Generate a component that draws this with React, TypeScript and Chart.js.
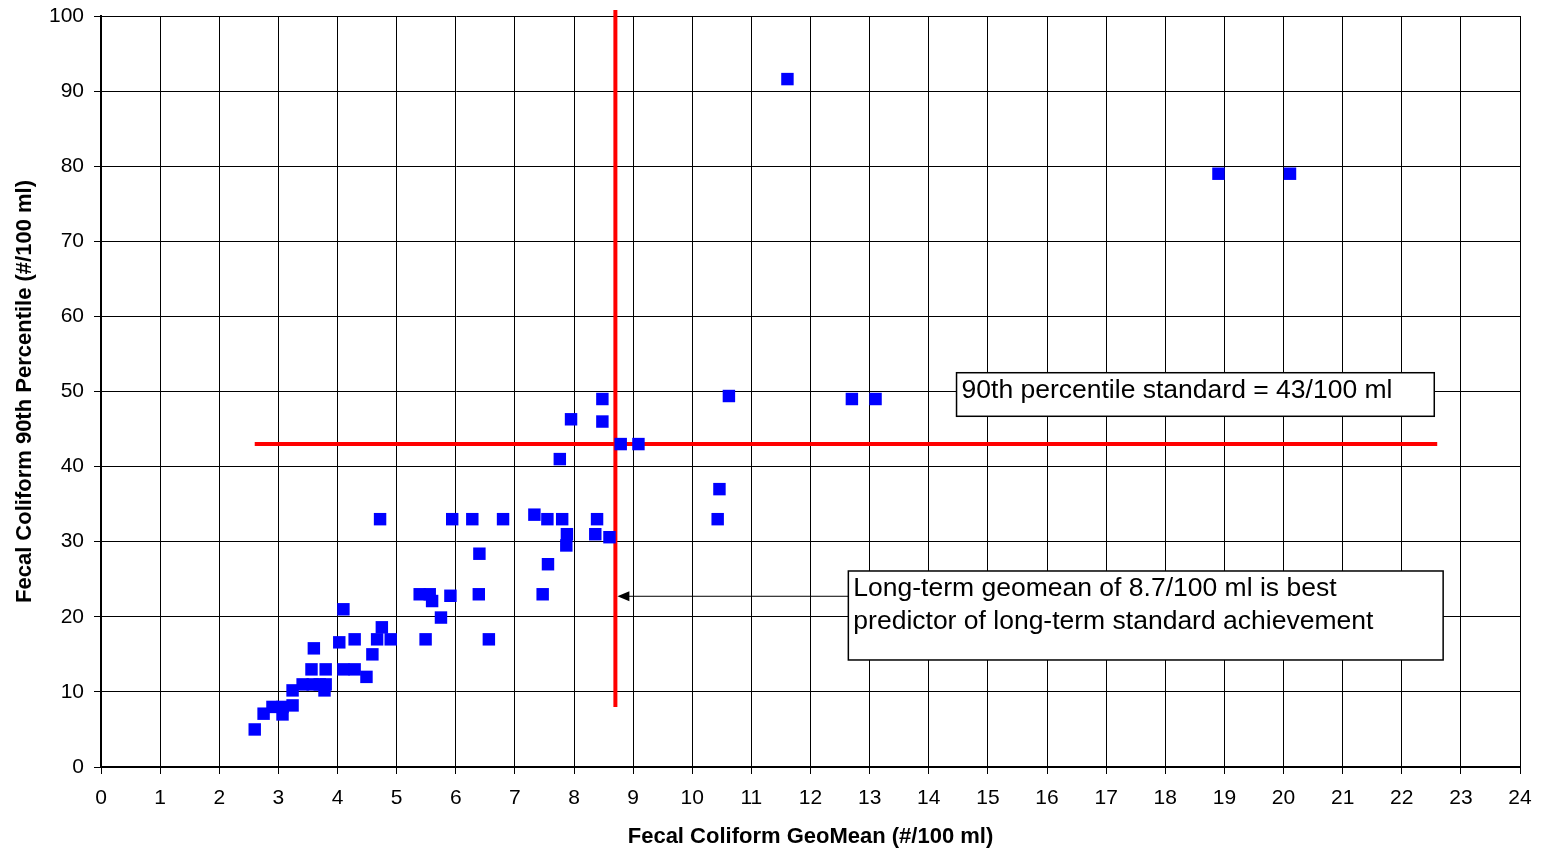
import React, { useEffect, useRef } from "react";
import { Chart, registerables } from "chart.js";

Chart.register(...registerables);

// Fecal coliform geometric mean per site (#/100 ml)
const geoMean: number[] = [
  2.6, 2.75, 2.9, 3.07, 3.07, 3.24, 3.24, 3.41, 3.58, 3.7, 3.8, 3.78, 3.56, 3.8, 3.6,
  4.1, 4.29, 4.49, 4.03, 4.29, 4.1, 4.59, 4.67, 4.75, 4.9, 4.72,
  5.39, 5.56, 5.6, 5.49, 5.75, 5.91, 5.94, 6.28, 6.39, 6.4, 6.56, 6.8,
  7.33, 7.47, 7.55, 7.56, 7.76, 7.8, 7.88, 7.87, 7.95, 8.36, 8.39, 8.48, 8.48, 8.6,
  8.79, 9.09, 10.43, 10.46, 10.62, 11.61, 12.7, 13.1, 18.9, 20.11,
];

// Fecal coliform 90th percentile per site (#/100 ml)
const percentile90: number[] = [
  5.0, 7.1, 8.0, 8.0, 7.0, 8.2, 10.2, 11.0, 11.0, 11.0, 11.0, 10.2, 13.0, 13.0, 15.8,
  13.0, 13.0, 12.0, 16.6, 17.0, 21.0, 15.0, 17.0, 18.6, 17.0, 33.0,
  23.0, 23.0, 22.1, 17.0, 19.9, 22.8, 33.0, 33.0, 23.0, 28.4, 17.0, 33.0,
  33.6, 23.0, 33.0, 27.0, 41.0, 33.0, 31.0, 29.5, 46.3, 31.0, 33.0, 49.0, 46.0, 30.6,
  43.0, 43.0, 33.0, 37.0, 49.4, 91.6, 49.0, 49.0, 79.0, 79.0,
];

// 90th percentile standard line (y = 43) and geomean line (x = 8.7)
const standardLineX: number[] = [2.6, 22.6];
const standardLineY: number[] = [43, 43];
const geomeanLineX: number[] = [8.7, 8.7];
const geomeanLineY: number[] = [8, 100.8];

const xTicks: number[] = Array.from({ length: 25 }, (_, i) => i);
const yTicks: number[] = [0, 10, 20, 30, 40, 50, 60, 70, 80, 90, 100];

const xTitle = "Fecal Coliform GeoMean (#/100 ml)";
const yTitle = "Fecal Coliform 90th Percentile (#/100 ml)";

const standardNote = ["90th percentile standard = 43/100 ml"];
const geomeanNote = [
  "Long-term geomean of 8.7/100 ml is best",
  "predictor of long-term standard achievement",
];

// Text boxes placed in data units: [left, top, right, bottom]
const standardBox = [14.47, 52.5, 22.55, 46.7];
const geomeanBox = [12.64, 26.1, 22.7, 14.25];
const arrowY = 22.8;

const FONT = "Arial, 'Liberation Sans', Helvetica, sans-serif";

const notesPlugin = {
  id: "notes",
  afterDatasetsDraw(chart: any) {
    const { ctx, scales } = chart;
    const xs = scales.x;
    const ys = scales.y;
    const drawBox = (box: number[], lines: string[]) => {
      const l = xs.getPixelForValue(box[0]);
      const t = ys.getPixelForValue(box[1]);
      const r = xs.getPixelForValue(box[2]);
      const b = ys.getPixelForValue(box[3]);
      ctx.save();
      ctx.fillStyle = "#ffffff";
      ctx.fillRect(l, t, r - l, b - t);
      ctx.strokeStyle = "#000000";
      ctx.lineWidth = 1.5;
      ctx.strokeRect(l, t, r - l, b - t);
      ctx.fillStyle = "#000000";
      ctx.font = `26.5px ${FONT}`;
      ctx.textBaseline = "middle";
      ctx.textAlign = "left";
      lines.forEach((line, i) => {
        ctx.fillText(line, l + 5, t + 18 + i * 33);
      });
      ctx.restore();
    };
    drawBox(standardBox, standardNote);
    drawBox(geomeanBox, geomeanNote);

    // Arrow from the note to the geomean line
    const ax0 = xs.getPixelForValue(geomeanBox[0]);
    const ax1 = xs.getPixelForValue(geomeanLineX[0]) + 2;
    const ay = ys.getPixelForValue(arrowY);
    ctx.save();
    ctx.strokeStyle = "#000000";
    ctx.fillStyle = "#000000";
    ctx.lineWidth = 1;
    ctx.beginPath();
    ctx.moveTo(ax0, ay + 0.5);
    ctx.lineTo(ax1 + 10, ay + 0.5);
    ctx.stroke();
    ctx.beginPath();
    ctx.moveTo(ax1, ay + 0.5);
    ctx.lineTo(ax1 + 12, ay - 4.5);
    ctx.lineTo(ax1 + 12, ay + 5.5);
    ctx.closePath();
    ctx.fill();
    ctx.restore();
  },
};

export default function App() {
  const canvasRef = useRef<HTMLCanvasElement | null>(null);

  useEffect(() => {
    document.body.style.margin = "0";
    const canvas = canvasRef.current;
    if (!canvas) return;

    const points = geoMean.map((x, i) => ({ x, y: percentile90[i] }));
    const hLine = standardLineX.map((x, i) => ({ x, y: standardLineY[i] }));
    const vLine = geomeanLineX.map((x, i) => ({ x, y: geomeanLineY[i] }));

    const chart = new Chart(canvas, {
      type: "scatter",
      data: {
        datasets: [
          {
            label: "Sites",
            data: points,
            pointStyle: "rect",
            pointRadius: 8.8,
            pointHoverRadius: 8.8,
            backgroundColor: "#0000ff",
            borderColor: "#0000ff",
            borderWidth: 0,
            order: 0,
          },
          {
            label: "Standard",
            data: hLine,
            showLine: true,
            borderColor: "#ff0000",
            borderWidth: 4,
            pointRadius: 0,
            order: 1,
          },
          {
            label: "Geomean",
            data: vLine,
            showLine: true,
            borderColor: "#ff0000",
            borderWidth: 4,
            pointRadius: 0,
            clip: false,
            order: 1,
          } as any,
        ],
      },
      options: {
        animation: false,
        responsive: true,
        maintainAspectRatio: false,
        layout: {
          autoPadding: false,
          padding: { left: 0, right: 23, top: 16, bottom: 0 },
        } as any,
        plugins: {
          legend: { display: false },
          tooltip: { enabled: false },
        },
        scales: {
          x: {
            type: "linear",
            min: 0,
            max: 24,
            afterBuildTicks: (scale: any) => {
              scale.ticks = xTicks.map((v) => ({ value: v }));
            },
            afterFit: (scale: any) => {
              scale.height = 85;
              scale.paddingLeft = 0;
              scale.paddingRight = 0;
            },
            grid: {
              color: "#000000",
              lineWidth: 1,
              tickLength: 7,
              tickColor: "#000000",
            },
            border: { color: "#000000", width: 2 },
            ticks: {
              color: "#000000",
              font: { family: FONT, size: 21 },
              padding: 12,
              maxRotation: 0,
              autoSkip: false,
            },
            title: {
              display: true,
              text: xTitle,
              color: "#000000",
              font: { family: FONT, size: 22, weight: "bold" },
              padding: { top: 0, bottom: 2 },
            },
          },
          y: {
            type: "linear",
            min: 0,
            max: 100,
            afterBuildTicks: (scale: any) => {
              scale.ticks = yTicks.map((v) => ({ value: v }));
            },
            afterFit: (scale: any) => {
              scale.width = 101;
              scale.paddingTop = 0;
              scale.paddingBottom = 0;
            },
            grid: {
              color: "#000000",
              lineWidth: 1,
              tickLength: 7,
              tickColor: "#000000",
            },
            border: { color: "#000000", width: 2 },
            ticks: {
              color: "#000000",
              font: { family: FONT, size: 21 },
              padding: 10,
              autoSkip: false,
            },
            title: {
              display: true,
              text: yTitle,
              color: "#000000",
              font: { family: FONT, size: 22, weight: "bold" },
              padding: { top: 12, bottom: 0 },
            },
          },
        },
      },
      plugins: [notesPlugin],
    });

    return () => chart.destroy();
  }, []);

  return (
    <div style={{ position: "fixed", left: 0, top: 0, width: 1543, height: 852, background: "#ffffff" }}>
      <canvas ref={canvasRef} />
    </div>
  );
}
